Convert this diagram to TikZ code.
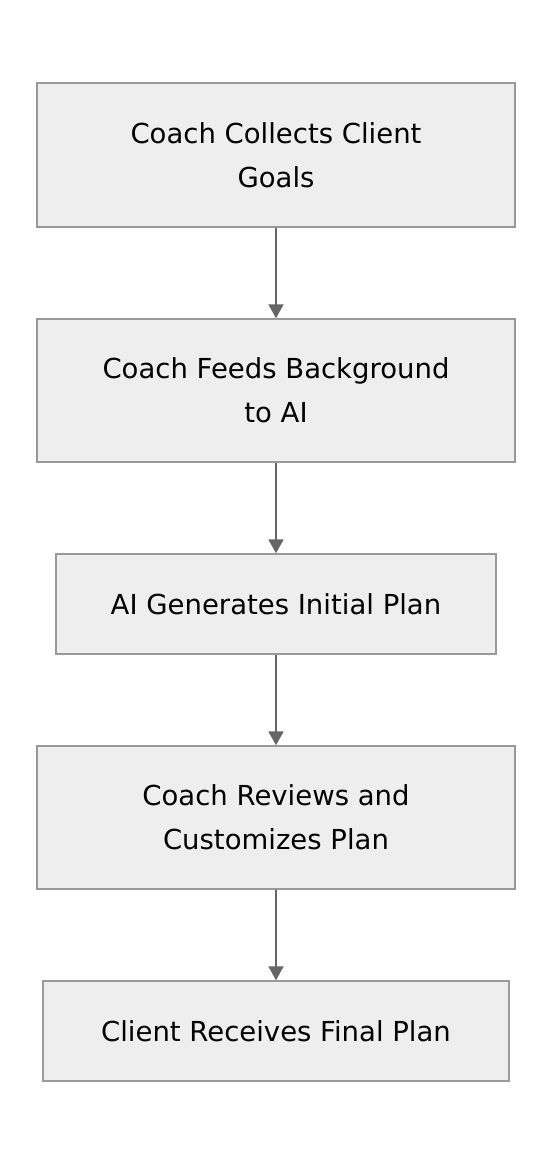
\documentclass[tikz,border=0pt]{standalone}
\usepackage{fontspec}
\setmainfont{DejaVu Sans}
\usetikzlibrary{arrows.meta}
\definecolor{boxfill}{HTML}{EEEEEE}
\definecolor{boxline}{HTML}{999999}
\definecolor{arrowc}{HTML}{666666}
\begin{document}
\begin{tikzpicture}[x=1pt,y=-1pt,
  stepbox/.style={draw=boxline,fill=boxfill,line width=1.5pt,inner sep=0pt,
    font=\fontsize{27.5}{44}\selectfont,align=center,text=black},
  flow/.style={draw=arrowc,line width=2pt,-{Triangle[length=14pt,width=15pt]}}]
\useasboundingbox (0,0) rectangle (552,1164);
\node[stepbox,minimum width=478pt,minimum height=144pt] (a) at (276,155) {Coach Collects Client\\Goals};
\node[stepbox,minimum width=478pt,minimum height=143pt] (b) at (276,390.5) {Coach Feeds Background\\to AI};
\node[stepbox,minimum width=440pt,minimum height=100pt] (c) at (276,604) {AI Generates Initial Plan};
\node[stepbox,minimum width=478pt,minimum height=143pt] (d) at (276,817.5) {Coach Reviews and\\Customizes Plan};
\node[stepbox,minimum width=466pt,minimum height=100pt] (e) at (276,1031) {Client Receives Final Plan};
\draw[flow] (a) -- (b);
\draw[flow] (b) -- (c);
\draw[flow] (c) -- (d);
\draw[flow] (d) -- (e);
\end{tikzpicture}
\end{document}
